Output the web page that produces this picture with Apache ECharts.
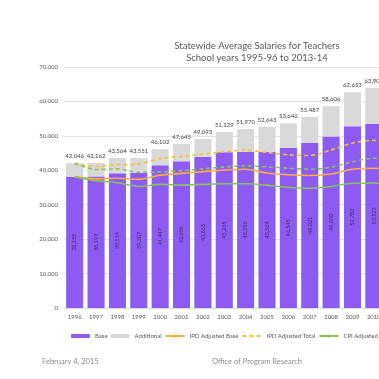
<!DOCTYPE html>
<html>
<head>
<meta charset="utf-8">
<script src="https://cdn.jsdelivr.net/npm/echarts@6/dist/echarts.min.js"></script>
<style>
html,body{margin:0;padding:0;overflow:hidden;background:#fff;width:379px;height:379px;}
#c{width:514px;height:379px;}
</style>
</head>
<body>
<div id="c"></div>
<script>
var years = ['1996','1997','1998','1999','2000','2001','2002','2003','2004','2005','2006','2007','2008','2009','2010','2011','2012','2013','2014'];
var totalSalary = [42046,42162,43564,43551,46102,47645,49093,51129,51970,52643,53646,55487,58606,62653,63904,63600,63300,62900,64000];
var baseSalary = [38155,38193,39114,39307,41447,42606,43865,45265,45356,45364,46545,48021,49800,52783,53523,53300,52900,52600,53000];
var ipdAdjustedBase = [38155,37500,37700,37400,38600,39100,39600,40100,40300,39200,38700,38500,38900,40300,40600,40000,39300,38800,38900];
var ipdAdjustedTotal = [42046,41100,41600,41800,43400,44000,44700,45400,45800,45200,44500,44300,45900,47900,48700,47800,47000,46300,47000];
var cpiAdjustedBase = [38155,37000,36400,35300,35900,35700,35900,36100,36100,35700,35000,34800,35300,36250,36300,35500,34600,34000,34000];
var cpiAdjustedTotal = [42046,40200,40400,39400,39500,39900,40400,41000,41280,41000,40600,40300,40900,42500,43500,42400,41400,40700,41200];
var yTicks = [0,10000,20000,30000,40000,50000,60000,70000];

var additional = totalSalary.map(function(t,i){return t - baseSalary[i];});
function fmt(v){return String(v).replace(/\B(?=(\d{3})+(?!\d))/g, ',');}

var FONT = 'Lato, "Open Sans", sans-serif';
var chart = echarts.init(document.getElementById('c'), null, {renderer:'canvas'});
chart.setOption({
  animation:false,
  backgroundColor:'#fff',
  textStyle:{fontFamily:FONT},
  title:{
    text:'Statewide Average Salaries for Teachers\nSchool years 1995-96 to 2013-14',
    left:'center', top:35,
    textStyle:{fontSize:9.5, fontWeight:'normal', color:'#595959', lineHeight:12, fontFamily:FONT}
  },
  grid:{left:64, right:44, top:67, bottom:71, containLabel:false},
  legend:{
    top:328, left:66,
    itemWidth:19, itemHeight:4, itemGap:3,
    textStyle:{fontSize:6, color:'#595959', fontFamily:FONT},
    data:['Base','Additional','IPD Adjusted Base','IPD Adjusted Total','CPI Adjusted Base','CPI Adjusted Total']
  },
  xAxis:{
    type:'category', data:years,
    axisLine:{lineStyle:{color:'#D9D9D9'}},
    axisTick:{show:false},
    axisLabel:{fontSize:6, color:'#595959', margin:6, fontFamily:FONT}
  },
  yAxis:{
    type:'value', min:yTicks[0], max:yTicks[yTicks.length-1], interval:10000,
    axisLine:{show:false}, axisTick:{show:false},
    splitLine:{lineStyle:{color:'#E3E3E3'}},
    axisLabel:{fontSize:6, color:'#595959', margin:6, fontFamily:FONT, formatter:function(v){return fmt(v);}}
  },
  graphic:[
    {type:'text', left:42, top:358, style:{text:'February 4, 2015', fontSize:7.5, fill:'#8c8c8c', fontFamily:FONT}},
    {type:'text', left:'center', top:358, style:{text:'Office of Program Research', fontSize:7.5, fill:'#8c8c8c', fontFamily:FONT}}
  ],
  series:[
    {name:'Base', type:'bar', stack:'s', data:baseSalary, barCategoryGap:'20%',
     itemStyle:{color:'#8C5CF2'},
     label:{show:true, position:'inside', rotate:90, fontSize:5.5, color:'#3b2f6b', fontFamily:FONT,
            formatter:function(p){return fmt(p.value);}}},
    {name:'Additional', type:'bar', stack:'s', data:additional,
     itemStyle:{color:'#D9D9D9'},
     label:{show:true, position:'top', distance:4, fontSize:6, color:'#404040', fontFamily:FONT,
            formatter:function(p){return fmt(totalSalary[p.dataIndex]);}}},
    {name:'IPD Adjusted Base', type:'line', data:ipdAdjustedBase, smooth:0.3, symbol:'none', z:5,
     itemStyle:{color:'#F7AE45'}, lineStyle:{color:'#F7AE45', width:1.6}},
    {name:'IPD Adjusted Total', type:'line', data:ipdAdjustedTotal, smooth:0.3, symbol:'none', z:5,
     itemStyle:{color:'#F5C238'}, lineStyle:{color:'#F5C238', width:1.6, type:[4,3]}},
    {name:'CPI Adjusted Base', type:'line', data:cpiAdjustedBase, smooth:0.3, symbol:'none', z:5,
     itemStyle:{color:'#8DC05A'}, lineStyle:{color:'#8DC05A', width:1.6}},
    {name:'CPI Adjusted Total', type:'line', data:cpiAdjustedTotal, smooth:0.3, symbol:'none', z:5,
     itemStyle:{color:'#8DC05A'}, lineStyle:{color:'#8DC05A', width:1.6, type:[4,3]}}
  ]
});
</script>
</body>
</html>
